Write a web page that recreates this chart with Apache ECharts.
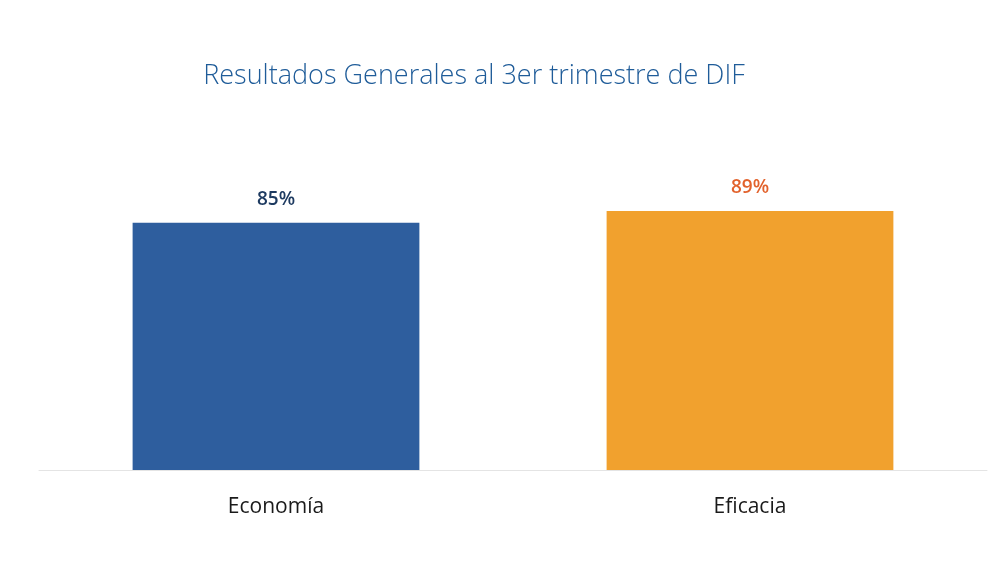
<!DOCTYPE html>
<html>
<head>
<meta charset="utf-8">
<script src="https://cdn.jsdelivr.net/npm/echarts@6/dist/echarts.min.js"></script>
<style>
  html, body { margin: 0; padding: 0; background: #fff; }
</style>
</head>
<body>
<div id="chart" style="width: 1003px; height: 575px;"></div>
<script>
  // datos del grafico
  const categories = ['Economía', 'Eficacia'];
  const values = [85, 89];
  const barColors = ['#2e5e9e', '#f1a12e'];
  const labelColors = ['#1d3a60', '#e2622c'];

  let myChart = echarts.init(document.getElementById('chart'));
  myChart.setOption({
    backgroundColor: '#fff',
    title: {
      text: 'Resultados Generales al 3er trimestre de DIF',
      left: 469,
      textAlign: 'center',
      top: 58,
      textStyle: {
        color: '#1f5c99',
        fontFamily: 'Open Sans',
        fontWeight: 300,
        fontSize: 27
      }
    },
    grid: {
      left: 39,
      right: 16,
      top: 179,
      bottom: 105
    },
    xAxis: {
      type: 'category',
      data: categories,
      axisLine: { lineStyle: { color: '#e4e4e4', width: 1 } },
      axisTick: { show: false },
      axisLabel: {
        color: '#1a1a1a',
        fontFamily: 'Open Sans',
        fontSize: 21,
        margin: 27
      }
    },
    yAxis: {
      type: 'value',
      min: 0,
      max: 100,
      show: false,
      splitLine: { show: false }
    },
    series: [
      {
        name: 'Resultados',
        type: 'bar',
        barCategoryGap: '39.5%',
        data: values.map(function (v, i) {
          return {
            value: v,
            itemStyle: { color: barColors[i] },
            label: { color: labelColors[i] }
          };
        }),
        label: {
          show: true,
          position: 'top',
          distance: 14,
          fontFamily: 'Open Sans',
          fontWeight: 600,
          fontSize: 19,
          formatter: '{c}%'
        }
      }
    ],
    animation: false
  });
</script>
</body>
</html>
